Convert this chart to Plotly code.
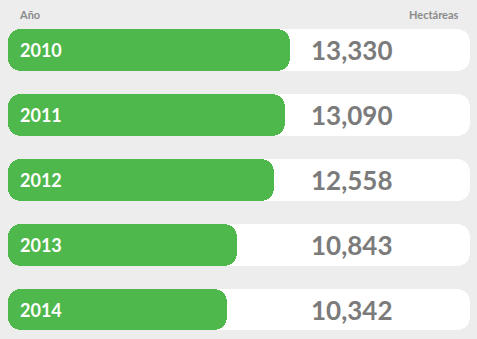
import plotly.graph_objects as go

years = ["2010", "2011", "2012", "2013", "2014"]
hectares = [13330, 13090, 12558, 10843, 10342]
header_left = "Año"
header_right = "Hectáreas"

GREEN = "#4fb84c"
BG = "#ededed"
GRAY = "#7b7b7b"

xmax = max(hectares) * 462 / 282
ypos = list(range(len(years)))

fig = go.Figure()
fig.add_trace(go.Bar(
    y=ypos, x=[xmax] * len(years), orientation="h", base=0,
    marker=dict(color="white", cornerradius=13, line=dict(width=0)),
    width=0.647, hoverinfo="skip", showlegend=False,
))
fig.add_trace(go.Bar(
    y=ypos, x=hectares, orientation="h", base=0,
    marker=dict(color=GREEN, cornerradius=13, line=dict(width=0)),
    width=0.647, showlegend=False,
))

font_family = "Lato, 'Open Sans', sans-serif"
for i, (yr, v) in enumerate(zip(years, hectares)):
    fig.add_annotation(x=10 / 462, xref="paper", y=i, yref="y", text=f"<b>{yr}</b>",
                       showarrow=False, xanchor="left", yanchor="middle",
                       font=dict(family=font_family, size=18, color="white"))
    fig.add_annotation(x=(351 - 8) / 462, xref="paper", y=i, yref="y", text=f"<b>{v:,}</b>",
                       showarrow=False, xanchor="center", yanchor="middle",
                       font=dict(family=font_family, size=26, color=GRAY))

fig.add_annotation(x=17, xref="paper", y=15, yref="paper", text=f"<b>{header_left}</b>",
                   showarrow=False, xanchor="left", yanchor="middle",
                   font=dict(family=font_family, size=11, color="#8a8a8a"))
fig.add_annotation(x=461, xref="paper", y=15, yref="paper", text=f"<b>{header_right}</b>",
                   showarrow=False, xanchor="right", yanchor="middle",
                   font=dict(family=font_family, size=11, color="#8a8a8a"))

# convert header annotations from pixel guesses to paper coords
W, H = 477, 339
ml, mr, mt, mb = 8, 7, 0, 0
pw, ph = W - ml - mr, H - mt - mb
for a in fig.layout.annotations[-2:]:
    a.x = (a.x - ml) / pw
    a.y = 1 - (a.y - mt) / ph

fig.update_layout(
    width=W, height=H,
    margin=dict(l=ml, r=mr, t=mt, b=mb, pad=0),
    paper_bgcolor=BG, plot_bgcolor=BG,
    barmode="overlay", bargap=0,
    xaxis=dict(range=[0, xmax], visible=False, fixedrange=True),
    yaxis=dict(range=[4.4547, -0.7707], visible=False, fixedrange=True),
)
fig.write_html("out.html", config={"displayModeBar": False})
